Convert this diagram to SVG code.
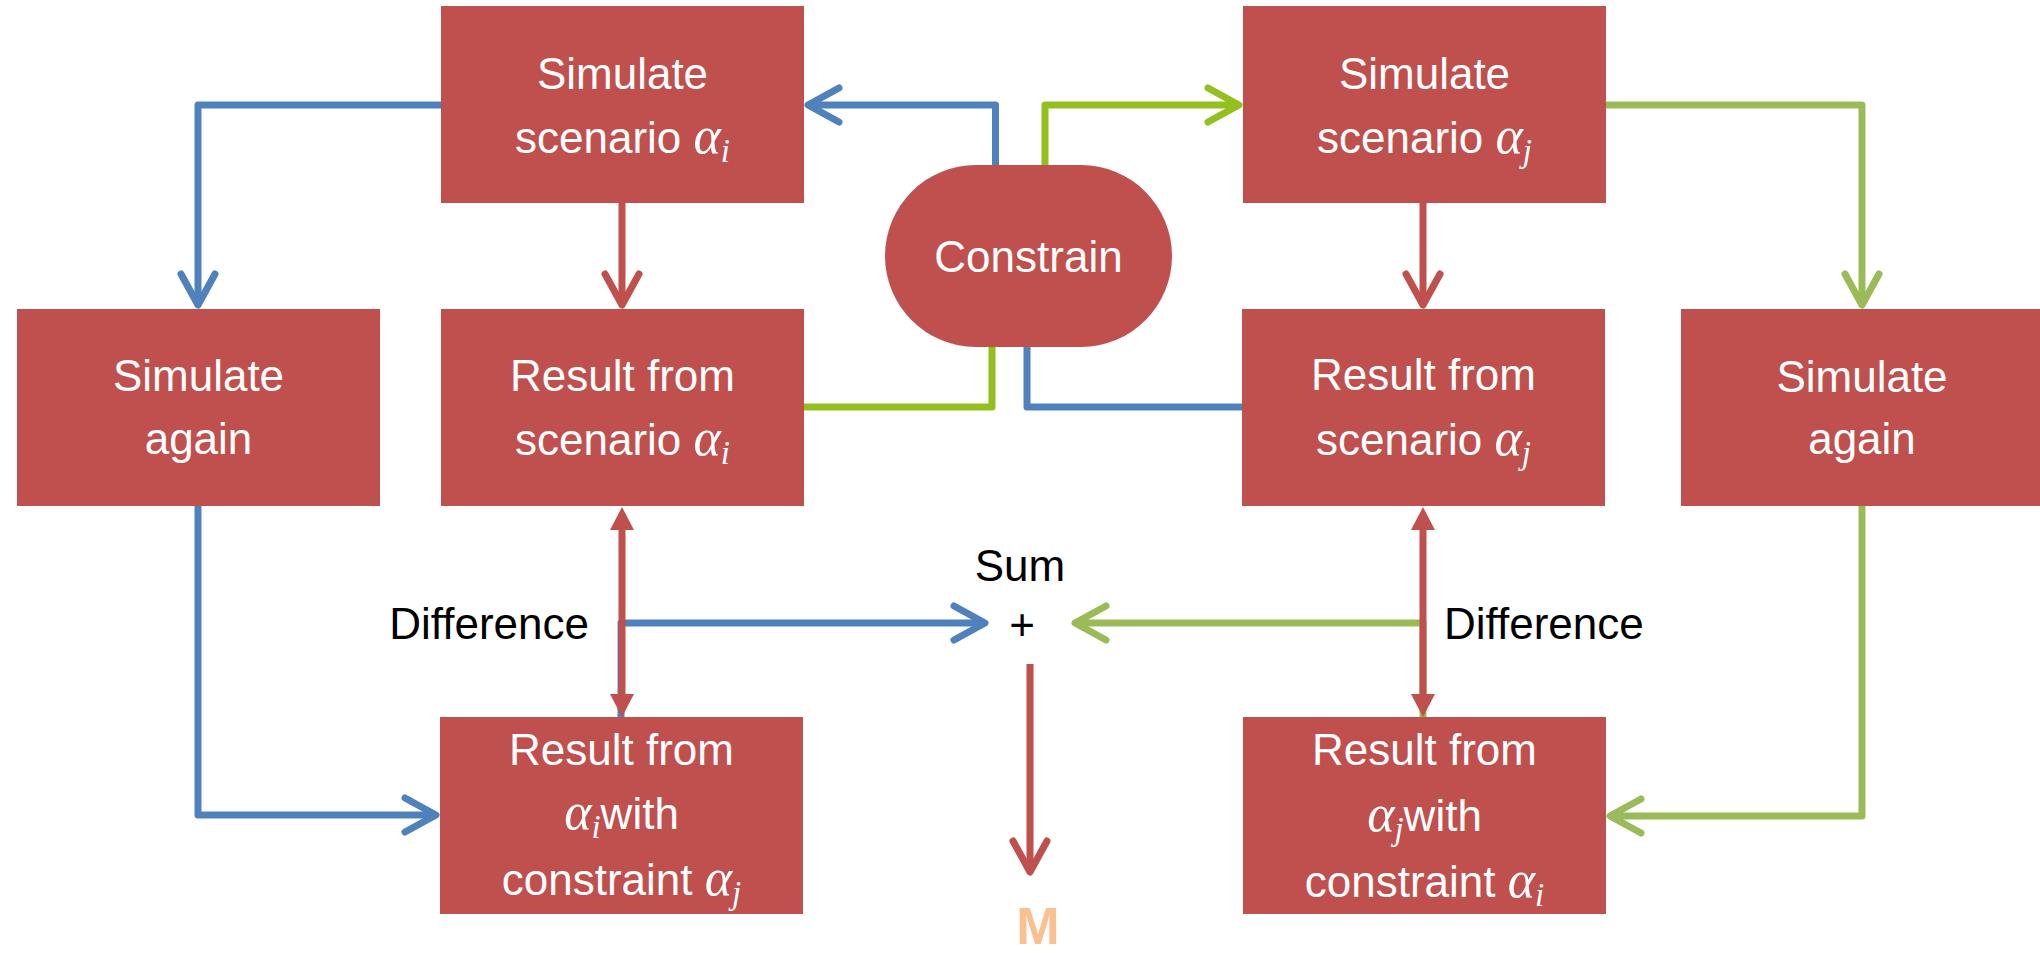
<svg xmlns="http://www.w3.org/2000/svg" width="2040" height="953" viewBox="0 0 2040 953">
<style>
.box{fill:#C0504D}
.t{font-family:"Liberation Sans",Arial,sans-serif;font-size:44px;fill:#FFFFFF;text-anchor:middle}
.k{font-family:"Liberation Sans",Arial,sans-serif;font-size:44px;fill:#000000}
.m{font-family:"Liberation Serif","Times New Roman",serif;font-style:italic;font-size:52px}
.s{font-family:"Liberation Serif","Times New Roman",serif;font-style:italic;font-size:33px}
.c{fill:none;stroke-width:7;stroke-linejoin:round}
.blue{stroke:#4F81BD}
.green{stroke:#9BBB59}
.lime{stroke:#93C01F}
.red{stroke:#C0504D}
</style>
<defs>
<marker id="chevBlue" markerUnits="userSpaceOnUse" markerWidth="60" markerHeight="60" viewBox="-45 -30 60 60" refX="0" refY="0" orient="auto" overflow="visible">
<path d="M-31,-17 L0,0 L-31,17" fill="none" stroke="#4F81BD" stroke-width="7" stroke-linecap="round" stroke-linejoin="round"/>
</marker>
<marker id="chevGreen" markerUnits="userSpaceOnUse" markerWidth="60" markerHeight="60" viewBox="-45 -30 60 60" refX="0" refY="0" orient="auto" overflow="visible">
<path d="M-31,-17 L0,0 L-31,17" fill="none" stroke="#9BBB59" stroke-width="7" stroke-linecap="round" stroke-linejoin="round"/>
</marker>
<marker id="chevLime" markerUnits="userSpaceOnUse" markerWidth="60" markerHeight="60" viewBox="-45 -30 60 60" refX="0" refY="0" orient="auto" overflow="visible">
<path d="M-31,-17 L0,0 L-31,17" fill="none" stroke="#93C01F" stroke-width="7" stroke-linecap="round" stroke-linejoin="round"/>
</marker>
<marker id="chevRed" markerUnits="userSpaceOnUse" markerWidth="60" markerHeight="60" viewBox="-45 -30 60 60" refX="0" refY="0" orient="auto" overflow="visible">
<path d="M-31,-17 L0,0 L-31,17" fill="none" stroke="#C0504D" stroke-width="7" stroke-linecap="round" stroke-linejoin="round"/>
</marker>
<marker id="triRed" markerUnits="userSpaceOnUse" markerWidth="40" markerHeight="40" viewBox="-20 -20 40 40" refX="0" refY="0" orient="auto-start-reverse" overflow="visible">
<polygon points="13,0 -10,-12 -10,12" fill="#C0504D"/>
</marker>
</defs>

<g id="connectors">
<path class="c blue" d="M441,105 H198 V305" marker-end="url(#chevBlue)"/>
<path class="c blue" d="M995.5,169 V105 H808" marker-end="url(#chevBlue)"/>
<path class="c lime" d="M1045,169 V105 H1239" marker-end="url(#chevLime)"/>
<path class="c green" d="M1606,105 H1862 V305" marker-end="url(#chevGreen)"/>
<path class="c red" d="M622,203 V305" marker-end="url(#chevRed)"/>
<path class="c red" d="M1423,203 V305" marker-end="url(#chevRed)"/>
<path class="c lime" d="M804,407 H992 V345"/>
<path class="c blue" d="M1027,345 V407 H1242"/>
<path class="c blue" d="M198,506 V815 H436" marker-end="url(#chevBlue)"/>
<path class="c green" d="M1862,506 V816 H1610" marker-end="url(#chevGreen)"/>
<path class="c blue" d="M621,717 V623 H985" marker-end="url(#chevBlue)"/>
<path class="c green" d="M1423,717 V623 H1075" marker-end="url(#chevGreen)"/>
<path class="c red" d="M622,520 V704" marker-start="url(#triRed)" marker-end="url(#triRed)"/>
<path class="c red" d="M1423,520 V704" marker-start="url(#triRed)" marker-end="url(#triRed)"/>
<path class="c red" d="M1030,664 V872" marker-end="url(#chevRed)"/>
</g>

<g id="sim-i">
<rect class="box" x="441" y="6" width="363" height="197"/>
<text class="t" x="622.5" y="89">Simulate</text>
<text class="t" x="622.5" y="153">scenario <tspan class="m">α</tspan><tspan class="s" dy="9">i</tspan></text>
</g>

<g id="sim-j">
<rect class="box" x="1243" y="6" width="363" height="197"/>
<text class="t" x="1424.5" y="89">Simulate</text>
<text class="t" x="1424.5" y="153">scenario <tspan class="m">α</tspan><tspan class="s" dy="9">j</tspan></text>
</g>

<g id="constrain">
<rect class="box" x="885" y="165" width="287" height="182" rx="91" ry="91"/>
<text class="t" x="1028.5" y="272">Constrain</text>
</g>

<g id="again-left">
<rect class="box" x="17" y="309" width="363" height="197"/>
<text class="t" x="198.5" y="391">Simulate</text>
<text class="t" x="198.5" y="454">again</text>
</g>

<g id="result-i">
<rect class="box" x="441" y="309" width="363" height="197"/>
<text class="t" x="622.5" y="391">Result from</text>
<text class="t" x="622.5" y="455">scenario <tspan class="m">α</tspan><tspan class="s" dy="9">i</tspan></text>
</g>

<g id="result-j">
<rect class="box" x="1242" y="309" width="363" height="197"/>
<text class="t" x="1423.5" y="390">Result from</text>
<text class="t" x="1423.5" y="455">scenario <tspan class="m">α</tspan><tspan class="s" dy="9">j</tspan></text>
</g>

<g id="again-right">
<rect class="box" x="1681" y="309" width="363" height="197"/>
<text class="t" x="1862" y="392">Simulate</text>
<text class="t" x="1862" y="454">again</text>
</g>

<g id="result-i-constrained">
<rect class="box" x="440" y="717" width="363" height="197"/>
<text class="t" x="621.5" y="765">Result from</text>
<text class="t" x="621.5" y="829"><tspan class="m">α</tspan><tspan class="s" dy="9">i</tspan><tspan dy="-9">with</tspan></text>
<text class="t" x="621.5" y="895">constraint <tspan class="m">α</tspan><tspan class="s" dy="9">j</tspan></text>
</g>

<g id="result-j-constrained">
<rect class="box" x="1243" y="717" width="363" height="197"/>
<text class="t" x="1424.5" y="765">Result from</text>
<text class="t" x="1424.5" y="831"><tspan class="m">α</tspan><tspan class="s" dy="9">j</tspan><tspan dy="-9">with</tspan></text>
<text class="t" x="1424.5" y="897">constraint <tspan class="m">α</tspan><tspan class="s" dy="9">i</tspan></text>
</g>

<g id="labels">
<text class="k" x="589" y="639" text-anchor="end">Difference</text>
<text class="k" x="1444" y="639">Difference</text>
<text class="k" x="1020" y="581" text-anchor="middle">Sum</text>
<text class="k" x="1022" y="640" text-anchor="middle">+</text>
</g>

<g id="result-m">
<text x="1038" y="944" text-anchor="middle" style="font-family:'Liberation Sans',Arial,sans-serif;font-weight:bold;font-size:52px;fill:#FAC090">M</text>
</g>
</svg>
